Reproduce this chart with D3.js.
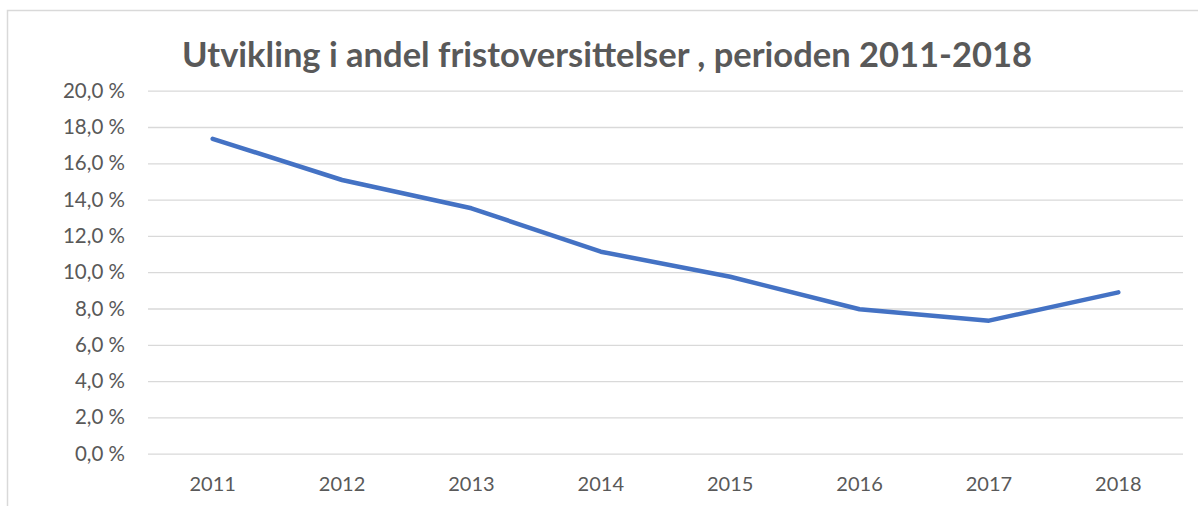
<!DOCTYPE html>
<html><head><meta charset="utf-8">
<script src="https://cdn.jsdelivr.net/npm/d3@7"></script>
<style>body{margin:0;background:#fff}svg{display:block}</style>
</head><body>
<svg id="c" width="1198" height="506"></svg>
<script>
const title = "Utvikling i andel fristoversittelser , perioden 2011-2018";
const years = ["2011","2012","2013","2014","2015","2016","2017","2018"];
const values = [17.35, 15.08, 13.52, 11.13, 9.75, 7.96, 7.33, 8.89];
const yTicks = [0,2,4,6,8,10,12,14,16,18,20];

const svg = d3.select("#c");
const m = {left:148, right:1183, top:90.7, bottom:453.7};

svg.append("path").attr("d","M7.5,506V10.5H1198").attr("fill","none").attr("stroke","#d9d9d9").attr("stroke-width",1.5);

const x = d3.scaleBand().domain(years).range([m.left, m.right]);
const y = d3.scaleLinear().domain([0,20]).range([m.bottom, m.top]);

const fmt = d => d3.format(".1f")(d).replace(".", ",") + " %";

const yAxis = svg.append("g").attr("transform",`translate(${m.left},0)`)
  .call(d3.axisLeft(y).tickValues(yTicks).tickFormat(fmt).tickSize(-(m.right-m.left)).tickPadding(23));
yAxis.select(".domain").remove();
yAxis.selectAll("line").attr("stroke","#d9d9d9").attr("stroke-width",1.3);
yAxis.selectAll("text").attr("fill","#595959").style("font-family","Lato, 'Open Sans', sans-serif").style("font-size","20.5px");

const xAxis = svg.append("g").attr("transform",`translate(0,${m.bottom})`)
  .call(d3.axisBottom(x).tickSize(0).tickPadding(23));
xAxis.select(".domain").remove();
xAxis.selectAll("text").attr("fill","#595959").style("font-family","Lato, 'Open Sans', sans-serif").style("font-size","20px");

const line = d3.line().x((d,i)=>x(years[i])+x.bandwidth()/2).y(d=>y(d));
svg.append("path").datum(values).attr("d",line).attr("fill","none")
  .attr("stroke","#4472c4").attr("stroke-width",4.5).attr("stroke-linecap","round").attr("stroke-linejoin","round");

svg.append("text").attr("x",607).attr("y",67).attr("text-anchor","middle")
  .attr("fill","#595959").style("font-family","Lato, 'Open Sans', sans-serif").style("font-weight","bold").style("font-size","34.5px")
  .text(title);
</script>
</body></html>
